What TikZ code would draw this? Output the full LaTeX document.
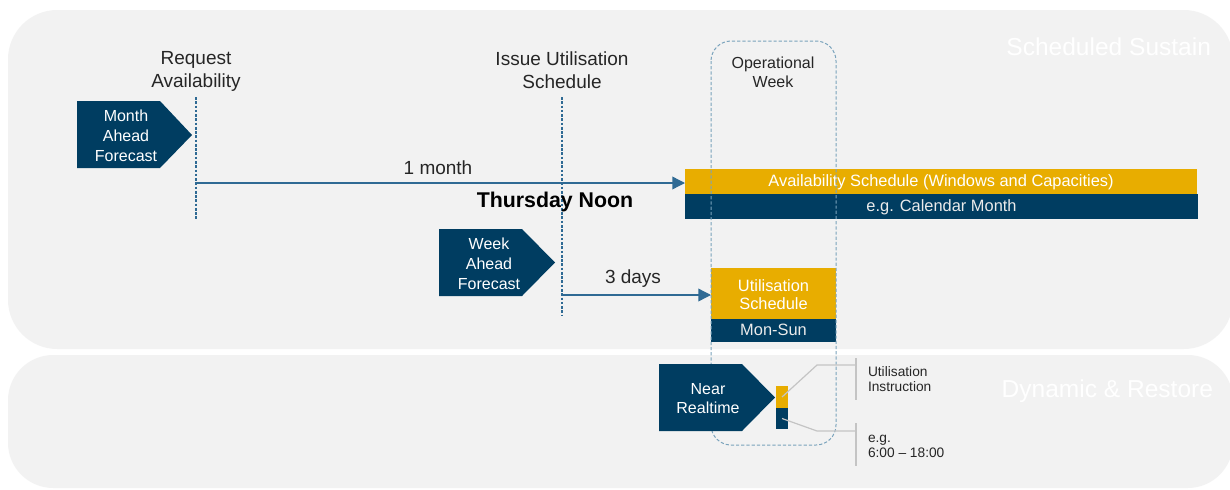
\documentclass[tikz,border=0pt]{standalone}
\usepackage{fontspec}
\setmainfont{Liberation Sans}
\usetikzlibrary{arrows.meta}
\definecolor{navy}{HTML}{003D61}
\definecolor{gold}{HTML}{E8AD00}
\definecolor{panel}{HTML}{F2F2F2}
\definecolor{tline}{HTML}{2F6A94}
\definecolor{opbox}{HTML}{7AA3BC}
\definecolor{txt}{HTML}{262626}
\definecolor{leadc}{HTML}{C4C4C4}
\begin{document}
\begin{tikzpicture}[x=0.75pt,y=-0.75pt,
 every node/.style={inner sep=0pt, outer sep=0pt},
 lbl/.style={font=\fontsize{14.25}{17.25}\selectfont, text=txt, align=center},
 wtxt/.style={font=\fontsize{12}{15}\selectfont, text=white, align=center},
 bartxt/.style={font=\fontsize{12.3}{13.5}\selectfont, text=white, align=center},
 onebar/.style={bartxt, text height=0.72em, text depth=0pt},
 smalltxt/.style={font=\fontsize{10.3}{11.25}\selectfont, text=txt, align=left, anchor=west},
 paneltitle/.style={font=\fontsize{18.4}{21}\selectfont, text=white, anchor=east},
 tick/.style={draw=tline, line width=0.8pt, dash pattern=on 2pt off 1.2pt},
 arr/.style={draw=tline, line width=1pt, -{Triangle[length=9.5pt,width=9.5pt]}},
 pent/.style={fill=navy},
 leadline/.style={draw=leadc, line width=0.9pt},
]
\useasboundingbox (0,0) rectangle (1230,489);
\fill[white] (0,0) rectangle (1230,489);
% panels
\fill[panel, rounded corners=37pt] (8,10) rectangle (1233,349);
\fill[panel, rounded corners=34pt] (8,355) rectangle (1233,488);
\node[paneltitle] (ss) at (1211,47) {Scheduled Sustain};
\node[paneltitle] (dr) at (1213,391) {Dynamic \& Restore};

% milestone labels and ticks
\node[lbl] (reqav) at (196,71) {Request\\Availability};
\node[lbl] (issue) at (562,70.5) {Issue Utilisation\\Schedule};
\coordinate (t1a) at (196,97); \coordinate (t1b) at (196,219);
\coordinate (t2a) at (562,97); \coordinate (t2b) at (562,315);
\draw[tick] (t1a) -- (t1b);
\draw[tick] (t2a) -- (t2b);

% bars
\node[onebar, fill=gold, minimum width=384pt, minimum height=18.75pt] (avail) at (941,181.5) {Availability Schedule (Windows and Capacities)};
\node[onebar, fill=navy, text=white!92!black, minimum width=384.75pt, minimum height=18.75pt] (cal) at (941.5,206.5) {e.g. Calendar Month};
\node[bartxt, fill=gold, minimum width=93.75pt, minimum height=38.25pt] (usch) at (773.5,293.5) {};
\node[bartxt] (uschtxt) at (773.5,295) {Utilisation\\Schedule};
\node[onebar, fill=navy, text=white!92!black, minimum width=93.75pt, minimum height=17.25pt] (monsun) at (773.5,330.5) {Mon-Sun};

% arrows
\coordinate (c1) at (196,183);
\coordinate (c2) at (562,295);
\draw[arr] (c1) -- (avail.west |- c1);
\draw[arr] (c2) -- (usch.west |- c2);
\node[lbl] (onem) at (438,167.5) {1 month};
\node[lbl] (threed) at (633,278.5) {3 days};
\node[font=\fontsize{16}{19}\selectfont\bfseries, text=black] (thu) at (555,202) {Thursday Noon};

% operational week box
\draw[opbox, line width=0.75pt, dash pattern=on 2.4pt off 1.5pt, rounded corners=15pt] (711,41) rectangle (836,445);
\node[font=\fontsize{12}{14.25}\selectfont, text=txt, align=center] (opw) at (773,72.5) {Operational\\Week};

% forecast pentagons
\fill[pent] (77,101) -- (160,101) -- (192,135) -- (160,168) -- (77,168) -- cycle;
\node[wtxt] (maf) at (126,136) {Month\\Ahead\\Forecast};
\fill[pent] (439,229) -- (522,229) -- (555,262.5) -- (522,296) -- (439,296) -- cycle;
\node[wtxt] (waf) at (489,264) {Week\\Ahead\\Forecast};
\fill[pent] (659,364) -- (742,364) -- (775,397.5) -- (742,431) -- (659,431) -- cycle;
\node[wtxt, font=\fontsize{12}{14.25}\selectfont] (nrt) at (708,399) {Near\\Realtime};

% near realtime blocks
\node[fill=gold, minimum width=9pt, minimum height=16.5pt] (ysm) at (782,397) {};
\node[fill=navy, minimum width=9pt, minimum height=15.75pt] (dsm) at (782,418.5) {};

% leaders
\coordinate (l1a) at (817,365); \coordinate (l1b) at (855,365);
\coordinate (l2a) at (817,431); \coordinate (l2b) at (855,431);
\draw[leadline] (ysm.center) -- (l1a) -- (l1b);
\draw[leadline] (dsm.center) -- (l2a) -- (l2b);
\coordinate (b1a) at (856,358); \coordinate (b1b) at (856,400);
\coordinate (b2a) at (856,423); \coordinate (b2b) at (856,466);
\draw[leadline] (b1a) -- (b1b);
\draw[leadline] (b2a) -- (b2b);
\node[smalltxt] (ui) at (868,379.5) {Utilisation\\Instruction};
\node[smalltxt] (eg) at (868,446) {e.g.\\6:00 – 18:00};
\end{tikzpicture}
\end{document}
